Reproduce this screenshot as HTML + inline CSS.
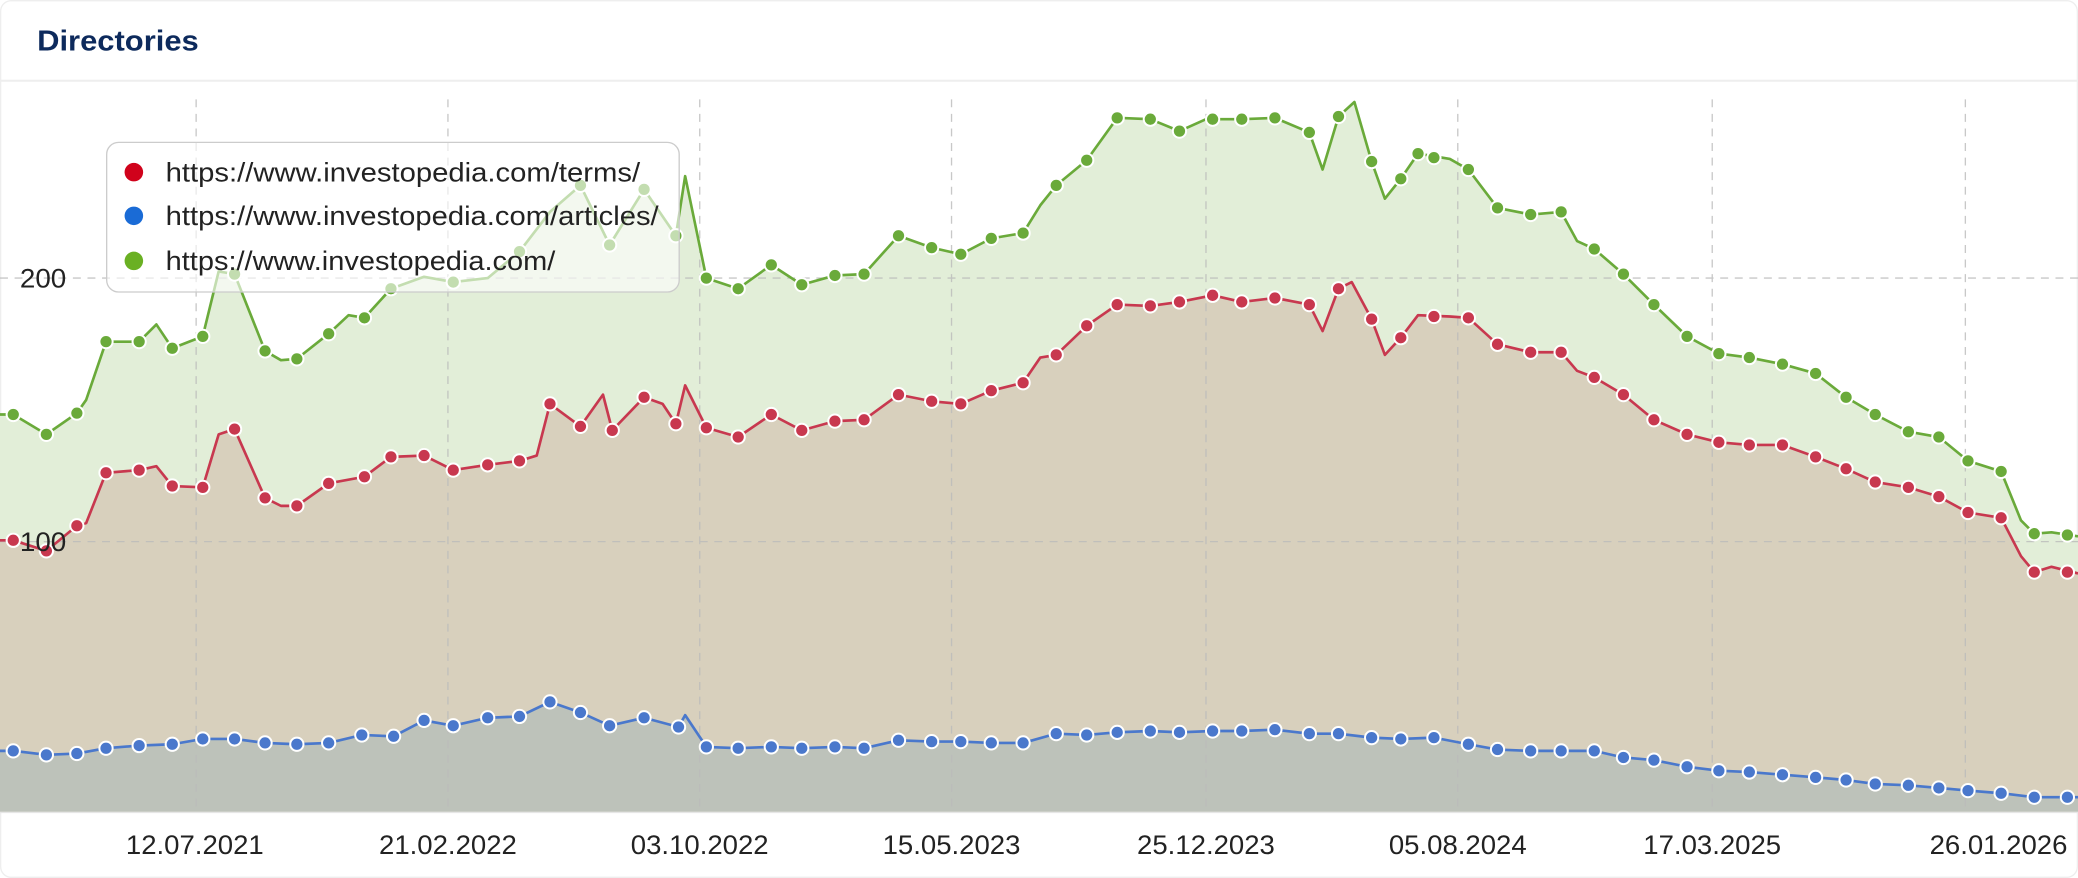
<!DOCTYPE html>
<html><head><meta charset="utf-8"><style>
html,body{margin:0;padding:0;background:#fff;}
svg{display:block;font-family:"Liberation Sans",sans-serif;}
</style></head><body>
<svg width="2078" height="878" viewBox="0 0 1568 663" preserveAspectRatio="none" xmlns="http://www.w3.org/2000/svg">
<rect x="0.5" y="0.5" width="1567" height="662" rx="8" fill="#fff" stroke="#eee"/>
<text x="28" y="38" font-size="22" font-weight="bold" fill="#0d2a5c" textLength="122" lengthAdjust="spacingAndGlyphs">Directories</text>
<line x1="0" y1="61" x2="1568" y2="61" stroke="#eee" stroke-width="1.5"/>
<g id="areas">
<polygon fill="#e2eed8" points="0,313 10,313 35,328 58,312 65,302 80,258 105,258 118,245 130,263 153,254 165,205 177,207 200,265 212,272 224,271 248,252 263,238 275,240 295,218 320,209 342,213 368,210 392,190 415,160 438,140 460,185 486,143 510,178 517,133 533,210 557,218 582,200 605,215 630,208 652,207 678,178 703,187 725,192 748,180 772,176 785,155 797,140 820,121 843,89 868,90 890,99 910,90 937,90 962,89 988,100 998,128 1010,88 1022,77 1035,122 1045,150 1057,135 1070,116 1094,120 1108,128 1130,157 1155,162 1178,160 1190,182 1203,188 1225,207 1248,230 1273,254 1297,267 1320,270 1345,275 1370,282 1393,300 1415,313 1440,326 1463,330 1485,348 1510,356 1525,393 1535,403 1548,402 1568,405 1568,613 0,613"/>
<polygon fill="#d8d0bd" points="0,408 10,408 35,416 58,397 65,395 80,357 105,355 118,352 130,367 153,368 165,328 177,324 200,376 212,382 224,382 248,365 275,360 295,345 320,344 342,355 368,351 392,348 405,344 415,305 438,322 455,298 462,325 486,300 500,305 510,320 517,291 533,323 557,330 582,313 605,325 630,318 652,317 678,298 703,303 725,305 748,295 772,289 785,270 797,268 820,246 843,230 868,231 890,228 915,223 937,228 962,225 988,230 998,250 1010,218 1020,213 1035,241 1045,268 1057,255 1070,238 1094,239 1108,240 1130,260 1155,266 1178,266 1190,280 1203,285 1225,298 1248,317 1273,328 1297,334 1320,336 1345,336 1370,345 1393,354 1415,364 1440,368 1463,375 1485,387 1510,391 1525,420 1535,432 1548,428 1568,433 1568,613 0,613"/>
<polygon fill="#bdc2ba" points="0,567 10,567 35,570 58,569 80,565 105,563 130,562 153,558 177,558 200,561 224,562 248,561 273,555 297,556 320,544 342,548 368,542 392,541 415,530 438,538 460,548 486,542 512,549 517,540 533,564 557,565 582,564 605,565 630,564 652,565 678,559 703,560 725,560 748,561 772,561 797,554 820,555 843,553 868,552 890,553 915,552 937,552 962,551 988,554 1010,554 1035,557 1057,558 1082,557 1108,562 1130,566 1155,567 1178,567 1203,567 1225,572 1248,574 1273,579 1297,582 1320,583 1345,585 1370,587 1393,589 1415,592 1440,593 1463,595 1485,597 1510,599 1535,602 1568,602 1568,613 0,613"/>
</g>
<g stroke="#bbb" stroke-dasharray="6,5" stroke-width="1" opacity="0.8">
<line x1="0" y1="210" x2="1568" y2="210"/><line x1="0" y1="409" x2="1568" y2="409"/>
<line x1="148" y1="75" x2="148" y2="613"/><line x1="338" y1="75" x2="338" y2="613"/><line x1="528" y1="75" x2="528" y2="613"/><line x1="718" y1="75" x2="718" y2="613"/><line x1="910" y1="75" x2="910" y2="613"/><line x1="1100" y1="75" x2="1100" y2="613"/><line x1="1292" y1="75" x2="1292" y2="613"/><line x1="1483" y1="75" x2="1483" y2="613"/>
</g>
<line x1="0" y1="613.5" x2="1568" y2="613.5" stroke="#e6e6e6"/>
<g fill="none" stroke-width="2" stroke-linejoin="round">
<polyline stroke="#6aaa3a" points="0,313 10,313 35,328 58,312 65,302 80,258 105,258 118,245 130,263 153,254 165,205 177,207 200,265 212,272 224,271 248,252 263,238 275,240 295,218 320,209 342,213 368,210 392,190 415,160 438,140 460,185 486,143 510,178 517,133 533,210 557,218 582,200 605,215 630,208 652,207 678,178 703,187 725,192 748,180 772,176 785,155 797,140 820,121 843,89 868,90 890,99 910,90 937,90 962,89 988,100 998,128 1010,88 1022,77 1035,122 1045,150 1057,135 1070,116 1094,120 1108,128 1130,157 1155,162 1178,160 1190,182 1203,188 1225,207 1248,230 1273,254 1297,267 1320,270 1345,275 1370,282 1393,300 1415,313 1440,326 1463,330 1485,348 1510,356 1525,393 1535,403 1548,402 1568,405"/>
<polyline stroke="#c8384f" points="0,408 10,408 35,416 58,397 65,395 80,357 105,355 118,352 130,367 153,368 165,328 177,324 200,376 212,382 224,382 248,365 275,360 295,345 320,344 342,355 368,351 392,348 405,344 415,305 438,322 455,298 462,325 486,300 500,305 510,320 517,291 533,323 557,330 582,313 605,325 630,318 652,317 678,298 703,303 725,305 748,295 772,289 785,270 797,268 820,246 843,230 868,231 890,228 915,223 937,228 962,225 988,230 998,250 1010,218 1020,213 1035,241 1045,268 1057,255 1070,238 1094,239 1108,240 1130,260 1155,266 1178,266 1190,280 1203,285 1225,298 1248,317 1273,328 1297,334 1320,336 1345,336 1370,345 1393,354 1415,364 1440,368 1463,375 1485,387 1510,391 1525,420 1535,432 1548,428 1568,433"/>
<polyline stroke="#4a78cc" points="0,567 10,567 35,570 58,569 80,565 105,563 130,562 153,558 177,558 200,561 224,562 248,561 273,555 297,556 320,544 342,548 368,542 392,541 415,530 438,538 460,548 486,542 512,549 517,540 533,564 557,565 582,564 605,565 630,564 652,565 678,559 703,560 725,560 748,561 772,561 797,554 820,555 843,553 868,552 890,553 915,552 937,552 962,551 988,554 1010,554 1035,557 1057,558 1082,557 1108,562 1130,566 1155,567 1178,567 1203,567 1225,572 1248,574 1273,579 1297,582 1320,583 1345,585 1370,587 1393,589 1415,592 1440,593 1463,595 1485,597 1510,599 1535,602 1568,602"/>
</g>
<g stroke="#fff" stroke-width="1.5">
<g fill="#6aaa3a">
<circle cx="10" cy="313" r="5"/><circle cx="35" cy="328" r="5"/><circle cx="58" cy="312" r="5"/><circle cx="80" cy="258" r="5"/><circle cx="105" cy="258" r="5"/><circle cx="130" cy="263" r="5"/><circle cx="153" cy="254" r="5"/><circle cx="177" cy="207" r="5"/><circle cx="200" cy="265" r="5"/><circle cx="224" cy="271" r="5"/><circle cx="248" cy="252" r="5"/><circle cx="275" cy="240" r="5"/><circle cx="295" cy="218" r="5"/><circle cx="342" cy="213" r="5"/><circle cx="392" cy="190" r="5"/><circle cx="438" cy="140" r="5"/><circle cx="460" cy="185" r="5"/><circle cx="486" cy="143" r="5"/><circle cx="510" cy="178" r="5"/><circle cx="533" cy="210" r="5"/><circle cx="557" cy="218" r="5"/><circle cx="582" cy="200" r="5"/><circle cx="605" cy="215" r="5"/><circle cx="630" cy="208" r="5"/><circle cx="652" cy="207" r="5"/><circle cx="678" cy="178" r="5"/><circle cx="703" cy="187" r="5"/><circle cx="725" cy="192" r="5"/><circle cx="748" cy="180" r="5"/><circle cx="772" cy="176" r="5"/><circle cx="797" cy="140" r="5"/><circle cx="820" cy="121" r="5"/><circle cx="843" cy="89" r="5"/><circle cx="868" cy="90" r="5"/><circle cx="890" cy="99" r="5"/><circle cx="915" cy="90" r="5"/><circle cx="937" cy="90" r="5"/><circle cx="962" cy="89" r="5"/><circle cx="988" cy="100" r="5"/><circle cx="1010" cy="88" r="5"/><circle cx="1035" cy="122" r="5"/><circle cx="1057" cy="135" r="5"/><circle cx="1070" cy="116" r="5"/><circle cx="1082" cy="119" r="5"/><circle cx="1108" cy="128" r="5"/><circle cx="1130" cy="157" r="5"/><circle cx="1155" cy="162" r="5"/><circle cx="1178" cy="160" r="5"/><circle cx="1203" cy="188" r="5"/><circle cx="1225" cy="207" r="5"/><circle cx="1248" cy="230" r="5"/><circle cx="1273" cy="254" r="5"/><circle cx="1297" cy="267" r="5"/><circle cx="1320" cy="270" r="5"/><circle cx="1345" cy="275" r="5"/><circle cx="1370" cy="282" r="5"/><circle cx="1393" cy="300" r="5"/><circle cx="1415" cy="313" r="5"/><circle cx="1440" cy="326" r="5"/><circle cx="1463" cy="330" r="5"/><circle cx="1485" cy="348" r="5"/><circle cx="1510" cy="356" r="5"/><circle cx="1535" cy="403" r="5"/><circle cx="1560" cy="404" r="5"/>
</g>
<g fill="#c8384f">
<circle cx="10" cy="408" r="5"/><circle cx="35" cy="416" r="5"/><circle cx="58" cy="397" r="5"/><circle cx="80" cy="357" r="5"/><circle cx="105" cy="355" r="5"/><circle cx="130" cy="367" r="5"/><circle cx="153" cy="368" r="5"/><circle cx="177" cy="324" r="5"/><circle cx="200" cy="376" r="5"/><circle cx="224" cy="382" r="5"/><circle cx="248" cy="365" r="5"/><circle cx="275" cy="360" r="5"/><circle cx="295" cy="345" r="5"/><circle cx="320" cy="344" r="5"/><circle cx="342" cy="355" r="5"/><circle cx="368" cy="351" r="5"/><circle cx="392" cy="348" r="5"/><circle cx="415" cy="305" r="5"/><circle cx="438" cy="322" r="5"/><circle cx="462" cy="325" r="5"/><circle cx="486" cy="300" r="5"/><circle cx="510" cy="320" r="5"/><circle cx="533" cy="323" r="5"/><circle cx="557" cy="330" r="5"/><circle cx="582" cy="313" r="5"/><circle cx="605" cy="325" r="5"/><circle cx="630" cy="318" r="5"/><circle cx="652" cy="317" r="5"/><circle cx="678" cy="298" r="5"/><circle cx="703" cy="303" r="5"/><circle cx="725" cy="305" r="5"/><circle cx="748" cy="295" r="5"/><circle cx="772" cy="289" r="5"/><circle cx="797" cy="268" r="5"/><circle cx="820" cy="246" r="5"/><circle cx="843" cy="230" r="5"/><circle cx="868" cy="231" r="5"/><circle cx="890" cy="228" r="5"/><circle cx="915" cy="223" r="5"/><circle cx="937" cy="228" r="5"/><circle cx="962" cy="225" r="5"/><circle cx="988" cy="230" r="5"/><circle cx="1010" cy="218" r="5"/><circle cx="1035" cy="241" r="5"/><circle cx="1057" cy="255" r="5"/><circle cx="1082" cy="239" r="5"/><circle cx="1108" cy="240" r="5"/><circle cx="1130" cy="260" r="5"/><circle cx="1155" cy="266" r="5"/><circle cx="1178" cy="266" r="5"/><circle cx="1203" cy="285" r="5"/><circle cx="1225" cy="298" r="5"/><circle cx="1248" cy="317" r="5"/><circle cx="1273" cy="328" r="5"/><circle cx="1297" cy="334" r="5"/><circle cx="1320" cy="336" r="5"/><circle cx="1345" cy="336" r="5"/><circle cx="1370" cy="345" r="5"/><circle cx="1393" cy="354" r="5"/><circle cx="1415" cy="364" r="5"/><circle cx="1440" cy="368" r="5"/><circle cx="1463" cy="375" r="5"/><circle cx="1485" cy="387" r="5"/><circle cx="1510" cy="391" r="5"/><circle cx="1535" cy="432" r="5"/><circle cx="1560" cy="432" r="5"/>
</g>
<g fill="#4a78cc">
<circle cx="10" cy="567" r="5"/><circle cx="35" cy="570" r="5"/><circle cx="58" cy="569" r="5"/><circle cx="80" cy="565" r="5"/><circle cx="105" cy="563" r="5"/><circle cx="130" cy="562" r="5"/><circle cx="153" cy="558" r="5"/><circle cx="177" cy="558" r="5"/><circle cx="200" cy="561" r="5"/><circle cx="224" cy="562" r="5"/><circle cx="248" cy="561" r="5"/><circle cx="273" cy="555" r="5"/><circle cx="297" cy="556" r="5"/><circle cx="320" cy="544" r="5"/><circle cx="342" cy="548" r="5"/><circle cx="368" cy="542" r="5"/><circle cx="392" cy="541" r="5"/><circle cx="415" cy="530" r="5"/><circle cx="438" cy="538" r="5"/><circle cx="460" cy="548" r="5"/><circle cx="486" cy="542" r="5"/><circle cx="512" cy="549" r="5"/><circle cx="533" cy="564" r="5"/><circle cx="557" cy="565" r="5"/><circle cx="582" cy="564" r="5"/><circle cx="605" cy="565" r="5"/><circle cx="630" cy="564" r="5"/><circle cx="652" cy="565" r="5"/><circle cx="678" cy="559" r="5"/><circle cx="703" cy="560" r="5"/><circle cx="725" cy="560" r="5"/><circle cx="748" cy="561" r="5"/><circle cx="772" cy="561" r="5"/><circle cx="797" cy="554" r="5"/><circle cx="820" cy="555" r="5"/><circle cx="843" cy="553" r="5"/><circle cx="868" cy="552" r="5"/><circle cx="890" cy="553" r="5"/><circle cx="915" cy="552" r="5"/><circle cx="937" cy="552" r="5"/><circle cx="962" cy="551" r="5"/><circle cx="988" cy="554" r="5"/><circle cx="1010" cy="554" r="5"/><circle cx="1035" cy="557" r="5"/><circle cx="1057" cy="558" r="5"/><circle cx="1082" cy="557" r="5"/><circle cx="1108" cy="562" r="5"/><circle cx="1130" cy="566" r="5"/><circle cx="1155" cy="567" r="5"/><circle cx="1178" cy="567" r="5"/><circle cx="1203" cy="567" r="5"/><circle cx="1225" cy="572" r="5"/><circle cx="1248" cy="574" r="5"/><circle cx="1273" cy="579" r="5"/><circle cx="1297" cy="582" r="5"/><circle cx="1320" cy="583" r="5"/><circle cx="1345" cy="585" r="5"/><circle cx="1370" cy="587" r="5"/><circle cx="1393" cy="589" r="5"/><circle cx="1415" cy="592" r="5"/><circle cx="1440" cy="593" r="5"/><circle cx="1463" cy="595" r="5"/><circle cx="1485" cy="597" r="5"/><circle cx="1510" cy="599" r="5"/><circle cx="1535" cy="602" r="5"/><circle cx="1560" cy="602" r="5"/>
</g>
</g>
<g font-size="20" fill="#222">
<text x="15" y="217" textLength="35" lengthAdjust="spacingAndGlyphs">200</text>
<text x="15" y="416" textLength="35" lengthAdjust="spacingAndGlyphs">100</text>
</g>
<g font-size="20" fill="#222" text-anchor="middle" lengthAdjust="spacingAndGlyphs">
<text x="147" y="645" textLength="104" lengthAdjust="spacingAndGlyphs">12.07.2021</text><text x="338" y="645" textLength="104" lengthAdjust="spacingAndGlyphs">21.02.2022</text><text x="528" y="645" textLength="104" lengthAdjust="spacingAndGlyphs">03.10.2022</text><text x="718" y="645" textLength="104" lengthAdjust="spacingAndGlyphs">15.05.2023</text><text x="910" y="645" textLength="104" lengthAdjust="spacingAndGlyphs">25.12.2023</text><text x="1100" y="645" textLength="104" lengthAdjust="spacingAndGlyphs">05.08.2024</text><text x="1292" y="645" textLength="104" lengthAdjust="spacingAndGlyphs">17.03.2025</text><text x="1508" y="645" textLength="104" lengthAdjust="spacingAndGlyphs">26.01.2026</text>
</g>
<rect x="80.5" y="107.5" width="432" height="113" rx="9" fill="#fff" fill-opacity="0.6" stroke="#ccc"/>
<circle cx="101" cy="130" r="7" fill="#d0021b"/>
<circle cx="101" cy="163" r="7" fill="#1a6bd6"/>
<circle cx="101" cy="197" r="7" fill="#6ab023"/>
<g font-size="20" fill="#222">
<text x="125" y="137" textLength="358" lengthAdjust="spacingAndGlyphs">https://www.investopedia.com/terms/</text>
<text x="125" y="170" textLength="372" lengthAdjust="spacingAndGlyphs">https://www.investopedia.com/articles/</text>
<text x="125" y="204" textLength="294" lengthAdjust="spacingAndGlyphs">https://www.investopedia.com/</text>
</g>
</svg>
</body></html>
